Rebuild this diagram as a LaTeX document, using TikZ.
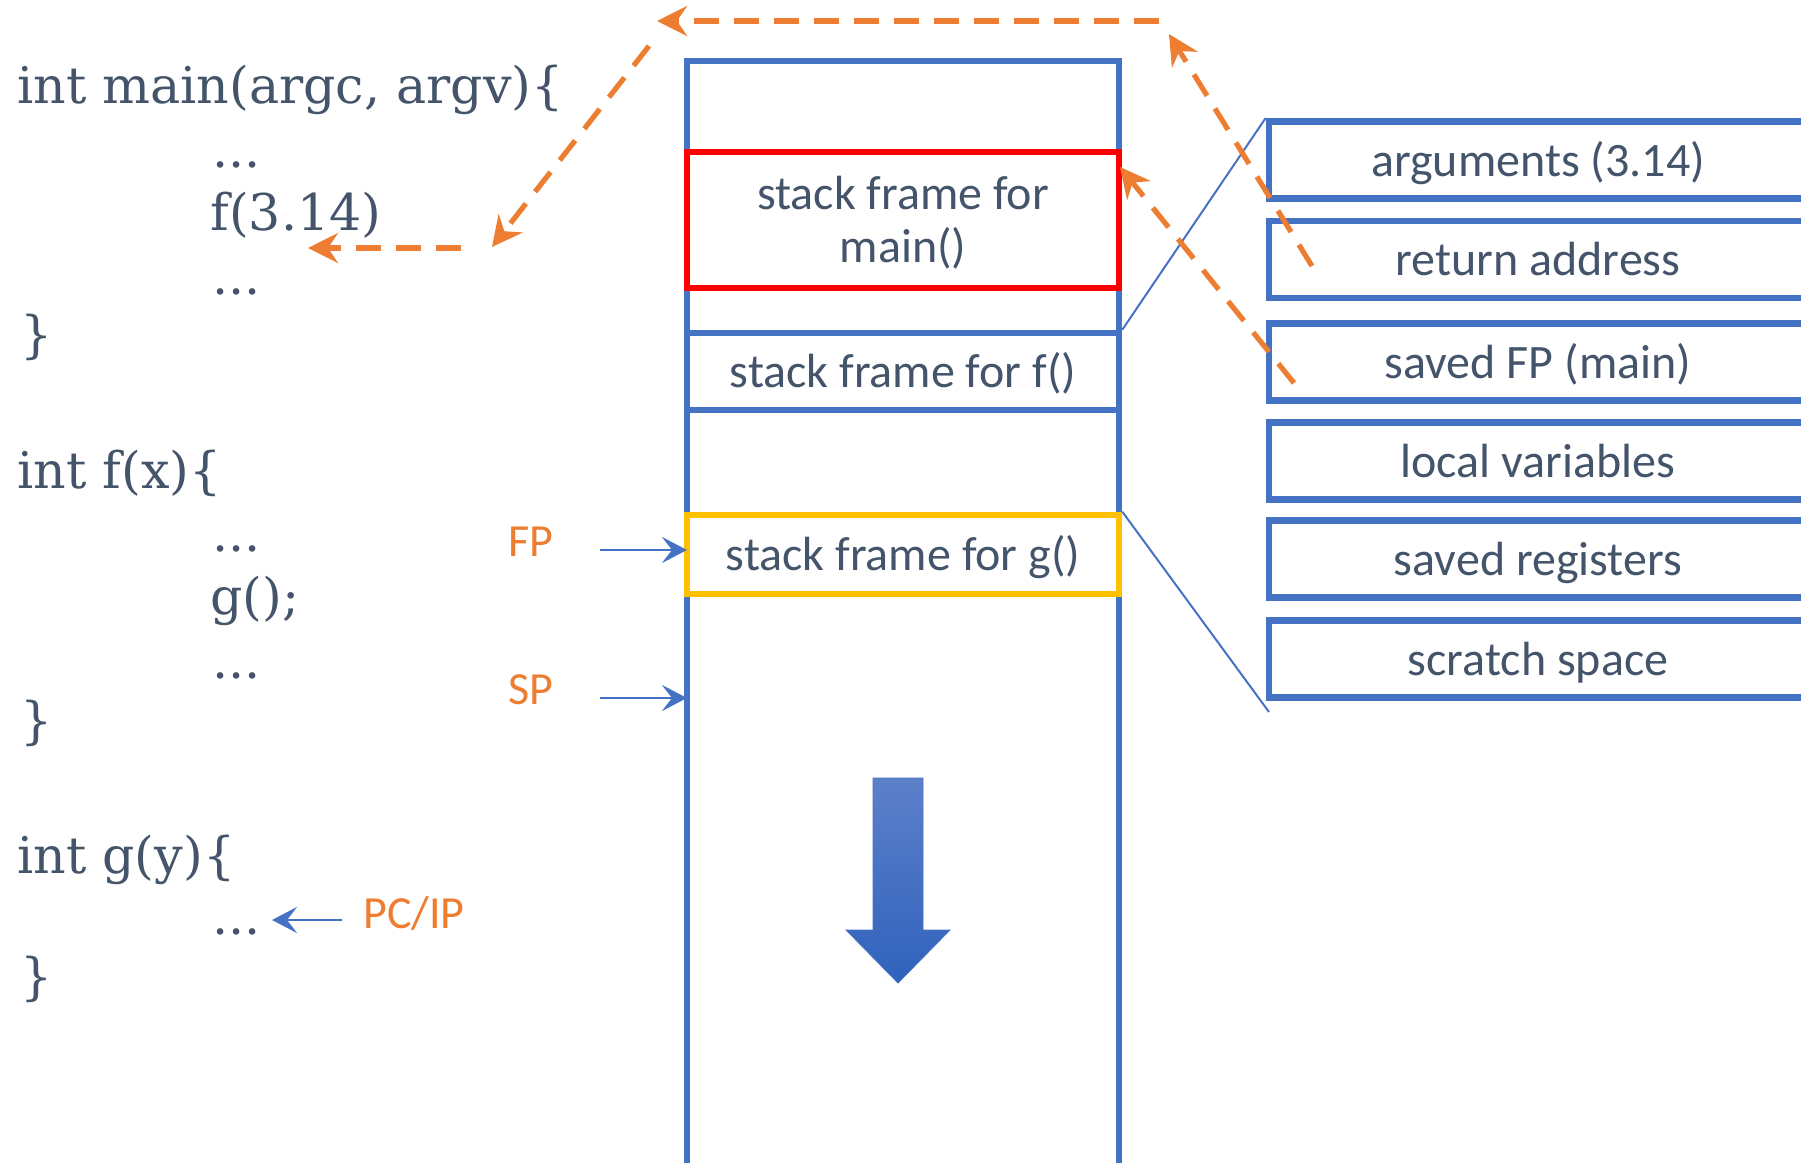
\documentclass[tikz,border=0pt]{standalone}
\usepackage{fontspec}
\setmainfont{Carlito}
\newfontfamily\codefont{DejaVu Serif}
\usetikzlibrary{arrows.meta}
\definecolor{cblue}{HTML}{4472C4}
\definecolor{corange}{HTML}{ED7D31}
\definecolor{ctext}{HTML}{44546A}
\definecolor{cred}{HTML}{FF0000}
\definecolor{cyellow}{HTML}{FFC000}
\definecolor{atop}{HTML}{5D80CA}
\definecolor{abot}{HTML}{2F62BC}
\begin{document}
\begin{tikzpicture}[x=0.5pt,y=-0.5pt,
  lbl/.style={font=\fontsize{24}{26.5}\selectfont, text=ctext},
  code/.style={font=\codefont\fontsize{25.3}{30}\selectfont, text=ctext, anchor=base west, inner sep=0pt},
  frm/.style={draw, line width=3.3pt, minimum width=216pt, inner sep=0pt, align=center, lbl},
  one/.style={text height=18pt, text depth=2pt},
  slot/.style={draw=cblue, line width=3.4pt, minimum width=269pt, minimum height=38.5pt, inner sep=0pt, lbl, one},
  plbl/.style={font=\fontsize{23}{28}\selectfont, text=corange, inner sep=0pt},
  odash/.style={draw=corange, line width=2.6pt, dash pattern=on 12.5pt off 7.5pt, -{Stealth[length=15pt,width=15pt,inset=5pt]}},
  ptr/.style={draw=cblue, line width=1.3pt, -{Stealth[length=12.5pt,width=13pt,inset=5pt]}},
  thin/.style={draw=cblue, line width=1pt}]
\useasboundingbox (0,0) rectangle (1801,1163);
\clip (0,0) rectangle (1801,1163);

% stack column
\node[draw=cblue, line width=2.9pt, minimum width=216pt, minimum height=569.5pt, inner sep=0pt] (stack) at (903,630.5) {};

% frames
\node[frm, draw=cred, minimum height=68pt] (mainfr) at (903,220) {};
\node[lbl, align=center, inner sep=0pt] (mainlbl) at (903,223) {stack frame for\\main()};
\node[frm, one, draw=cblue, minimum height=38.5pt] (ffr) at (903,371.5) {stack frame for f()};
\node[frm, one, draw=cyellow, minimum height=39.5pt] (gfr) at (903,554.5) {stack frame for g()};

% big down arrow
\shade[top color=atop, bottom color=abot, draw=cblue, line width=0.4pt]
  (873,778) -- (923,778) -- (923,930) -- (950,930) -- (898,983) -- (846,930) -- (873,930) -- cycle;

% right slots
\node[slot] (args) at (1538,160) {arguments (3.14)};
\node[slot] (ret)  at (1538,259.5) {return address};
\node[slot] (sfp)  at (1538,362) {saved FP (main)};
\node[slot] (loc)  at (1538,461) {local variables};
\node[slot] (sreg) at (1538,559) {saved registers};
\node[slot] (scr)  at (1538,659) {scratch space};

% thin zoom lines
\coordinate (gend) at (1269,712);
\draw[thin] (ffr.north east) -- (args.north west);
\draw[thin] (gfr.north east) -- (gend);

% code
\node[code] (c1)  at (17,103) {int main(argc, argv)\{};
\node[code] (c2)  at (212,167) {...};
\node[code] (c3)  at (210,230) {f(3.14)};
\node[code] (c4)  at (212,294) {...};
\node[code] (c5)  at (20,352) {\}};
\node[code] (c6)  at (17,488) {int f(x)\{};
\node[code] (c7)  at (212,551) {...};
\node[code] (c8)  at (210,614) {g();};
\node[code] (c9)  at (212,678) {...};
\node[code] (c10) at (20,738) {\}};
\node[code] (c11) at (17,873) {int g(y)\{};
\node[code] (c12) at (212,934) {...};
\node[code] (c13) at (20,994) {\}};

% pointer labels
\node[plbl] (fp) at (531,542) {FP};
\node[plbl] (sp) at (531,690) {SP};
\node[plbl] (pc) at (414,913) {PC/IP};
\coordinate (fps) at (600,550);
\coordinate (fpe) at (687,550);
\coordinate (sps) at (600,698);
\coordinate (spe) at (687,698);
\coordinate (pcs) at (342,920);
\coordinate (pce) at (272,920);
\draw[ptr] (fps) -- (fpe);
\draw[ptr] (sps) -- (spe);
\draw[ptr] (pcs) -- (pce);

% orange dashed arrows
\coordinate (a1s) at (1159,21);
\coordinate (a1e) at (657,21);
\coordinate (a2s) at (649,46);
\coordinate (a2e) at (492,247);
\coordinate (a3s) at (461,248);
\coordinate (a3e) at (308,248);
\coordinate (a4s) at (1312,266);
\coordinate (a4e) at (1169,34);
\coordinate (a5s) at (1294,383);
\coordinate (a5e) at (1120,167);
\draw[odash] (a1s) -- (a1e);
\draw[odash] (a2s) -- (a2e);
\draw[odash] (a3s) -- (a3e);
\draw[odash] (a4s) -- (a4e);
\draw[odash] (a5s) -- (a5e);
\end{tikzpicture}
\end{document}
